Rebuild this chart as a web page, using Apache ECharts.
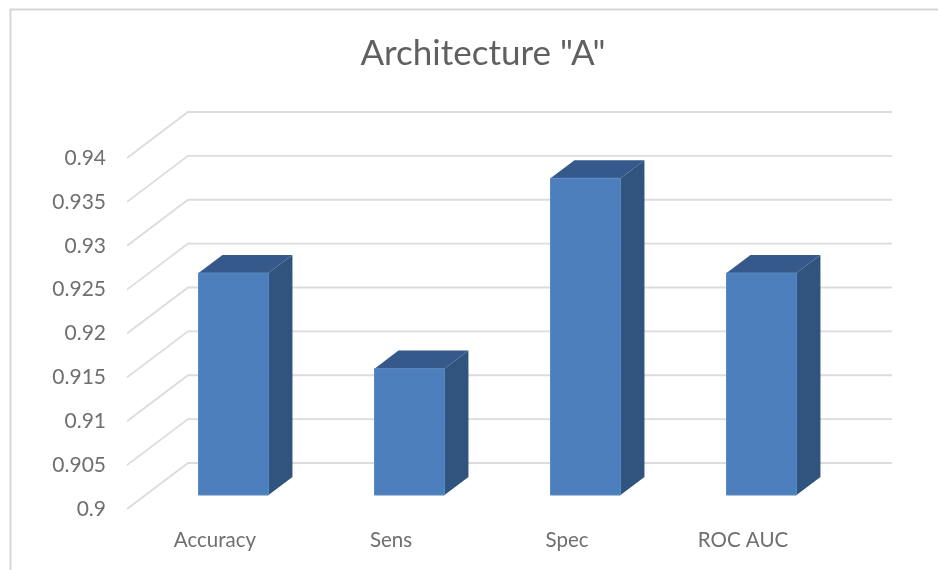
<!DOCTYPE html>
<html>
<head>
<meta charset="utf-8">
<title>Architecture "A"</title>
<style>
  html, body { margin: 0; padding: 0; background: #fff; }
  #chart { width: 938px; height: 570px; }
</style>
<script src="https://cdn.jsdelivr.net/npm/echarts@6/dist/echarts.min.js"></script>
</head>
<body>
<div id="chart"></div>
<script>
const titleText = 'Architecture "A"';
const categories = ['Accuracy', 'Sens', 'Spec', 'ROC AUC'];
const metricValues = [0.9253, 0.9144, 0.9361, 0.9253];
const gridTicks = [0.9, 0.905, 0.91, 0.915, 0.92, 0.925, 0.93, 0.935, 0.94];

// Oblique projection of the chart's floor depth, in pixels.
const FLOOR_DX = 61;
const FLOOR_DY = -46;
// Front and back of a column as fractions of the floor depth.
const BAR_NEAR = 0.304;
const BAR_FAR = 0.696;
const BAR_WIDTH = 70;

const FONT = 'Lato, "Open Sans", sans-serif';
const TEXT_COLOR = '#6f6f6f';
const GRID_COLOR = '#dcdcdc';

const project = (pt, depth) => [pt[0] + FLOOR_DX * depth, pt[1] + FLOOR_DY * depth];

// Side-wall diagonal plus back-wall line for one axis tick.
function renderGridLine(params, api) {
  const front = api.coord([0, api.value(1)]);
  const start = [front[0] - api.size([1, 0])[0] / 2, front[1]];
  const corner = project(start, 1);
  const end = [corner[0] + api.size([1, 0])[0] * categories.length, corner[1]];
  return {
    type: 'polyline',
    shape: { points: [start, corner, end] },
    style: { stroke: GRID_COLOR, lineWidth: 1.8, fill: null }
  };
}

// One column: side, top and front faces.
function renderColumn(params, api) {
  const top = api.coord([api.value(0), api.value(1)]);
  const base = api.coord([api.value(0), gridTicks[0]]);
  const half = BAR_WIDTH / 2;
  const corner = (x, y, depth) => project([x, y], depth);
  const nl = corner(top[0] - half, top[1], BAR_NEAR);
  const nr = corner(top[0] + half, top[1], BAR_NEAR);
  const fl = corner(top[0] - half, top[1], BAR_FAR);
  const fr = corner(top[0] + half, top[1], BAR_FAR);
  const nlb = corner(top[0] - half, base[1], BAR_NEAR);
  const nrb = corner(top[0] + half, base[1], BAR_NEAR);
  const frb = corner(top[0] + half, base[1], BAR_FAR);
  return {
    type: 'group',
    children: [
      { type: 'polygon', shape: { points: [nr, fr, frb, nrb] }, style: { fill: '#31547e' } },
      { type: 'polygon', shape: { points: [nl, fl, fr, nr] }, style: { fill: '#35598b' } },
      { type: 'polygon', shape: { points: [nl, nr, nrb, nlb] }, style: { fill: '#4e7fbd', stroke: '#5788c5', lineWidth: 1 } }
    ]
  };
}

const chart = echarts.init(document.getElementById('chart'), null, { renderer: 'canvas' });
chart.setOption({
  animation: false,
  backgroundColor: '#ffffff',
  title: {
    text: titleText,
    left: 478,
    top: 31,
    textAlign: 'center',
    textStyle: { fontFamily: FONT, fontSize: 35, fontWeight: 'normal', color: '#606060' }
  },
  graphic: [{
    type: 'polyline',
    silent: true,
    shape: { points: [[10.5, 570], [10.5, 9.5], [938, 9.5]] },
    style: { stroke: '#d6d6d6', lineWidth: 2, fill: null }
  }],
  grid: { left: 127, right: 107, top: 158, bottom: 61, containLabel: false },
  xAxis: {
    type: 'category',
    data: categories,
    axisLine: { show: false },
    axisTick: { show: false },
    axisLabel: { margin: 21, fontFamily: FONT, fontSize: 20.5, color: TEXT_COLOR }
  },
  yAxis: {
    type: 'value',
    min: 0.9,
    max: 0.94,
    interval: 0.005,
    axisLine: { show: false },
    axisTick: { show: false },
    splitLine: { show: false },
    axisLabel: { margin: 21, padding: [3, 0, 0, 0], fontFamily: FONT, fontSize: 21, color: TEXT_COLOR }
  },
  series: [
    {
      type: 'custom',
      name: 'Grid',
      z: 1,
      silent: true,
      clip: false,
      renderItem: renderGridLine,
      encode: { x: 0, y: 1 },
      data: gridTicks.map(v => [0, v])
    },
    {
      type: 'custom',
      name: titleText,
      z: 2,
      clip: false,
      renderItem: renderColumn,
      encode: { x: 0, y: 1 },
      data: metricValues.map((v, i) => [i, v])
    }
  ]
});
</script>
</body>
</html>
